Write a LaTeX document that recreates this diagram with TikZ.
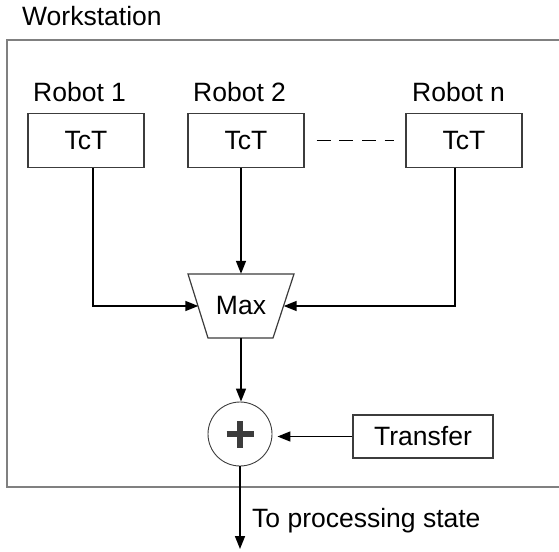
\documentclass[tikz,border=0pt]{standalone}
\usepackage{fontspec}
\setmainfont{Liberation Sans}
\usetikzlibrary{arrows.meta}
\definecolor{framegray}{RGB}{128,128,128}
\definecolor{boxgray}{RGB}{60,60,60}
\begin{document}
\begin{tikzpicture}[x=1pt,y=-1pt,
  every node/.style={font=\fontsize{26.5}{30}\selectfont, text=black, inner sep=0pt},
  tctbox/.style={draw=boxgray, line width=1.2pt, minimum width=116pt, minimum height=54pt},
  lbl/.style={anchor=base west},
  conn/.style={line width=1.6pt, -{Triangle[length=13pt,width=10pt]}},
  plain/.style={line width=1.6pt}
]
\useasboundingbox (0,0) rectangle (559,551);
\begin{scope}
\clip (0,0) rectangle (559,551);
\draw[framegray, line width=1.8pt] (7,40) rectangle (570,487);
\end{scope}

\node[lbl] (ws) at (22,26) {Workstation};

\node[tctbox] (box1) at (86,140.5) {TcT};
\node[tctbox] (box2) at (246,140.5) {TcT};
\node[tctbox] (boxn) at (464,140.5) {TcT};

\node[lbl] (l1) at (33,101) {Robot 1};
\node[lbl] (l2) at (193,101) {Robot 2};
\node[lbl] (ln) at (412,101) {Robot n};

\draw[plain, dash pattern=on 14pt off 8.7pt] ([xshift=12pt]box2.east) -- ([xshift=-11pt]boxn.west);

% Max block
\node[minimum width=85pt, minimum height=64pt] (max) at (241,306) {Max};
\draw[boxgray, line width=1.2pt] (188,274) -- (294,274) -- (273,338) -- (208,338) -- cycle;

\draw[conn] ([xshift=7pt]box1.south) |- (max.west);
\draw[conn] (box2.south -| max.north) -- (max.north);
\draw[conn] ([xshift=-9pt]boxn.south) |- (max.east);

% Sum
\node[circle, draw=boxgray, line width=0.9pt, minimum size=64pt,
  path picture={
    \draw[line width=5.5pt] ([xshift=-13.5pt]path picture bounding box.center) -- ([xshift=13.5pt]path picture bounding box.center);
    \draw[line width=5.5pt] ([yshift=-13.5pt]path picture bounding box.center) -- ([yshift=13.5pt]path picture bounding box.center);
  }] (sum) at (240,434) {};

\draw[conn] (max.south) -- (sum.north -| max.south);

\node[draw=boxgray, line width=1.2pt, minimum width=140pt, minimum height=43pt] (transfer) at (423,436.5) {Transfer};
\draw[conn, shorten >=5pt] (transfer.west) -- (transfer.west -| sum.east);

\coordinate (out) at (242,549);
\draw[conn] (sum.south) -- (sum.south |- out);
\node[lbl] (outlbl) at (252,527) {To processing state};
\end{tikzpicture}
\end{document}
